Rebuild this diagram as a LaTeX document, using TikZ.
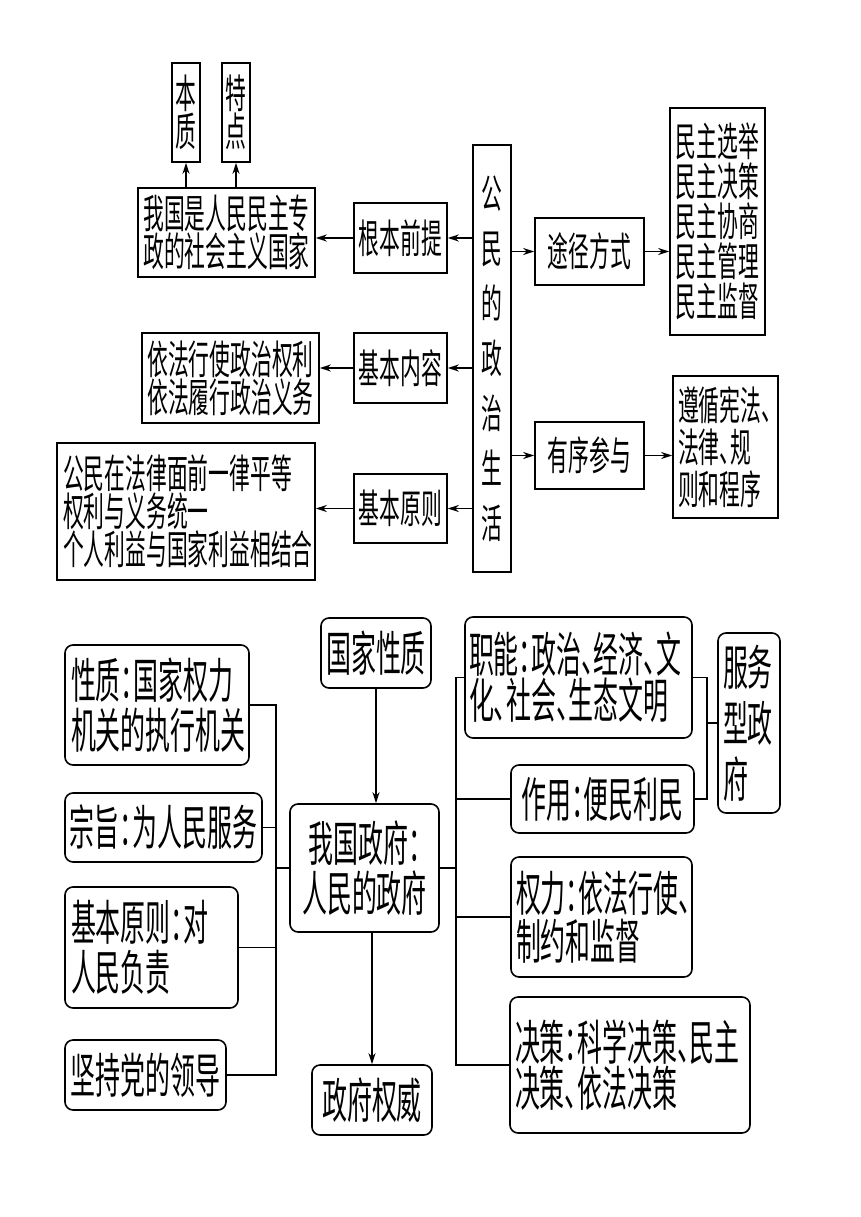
\documentclass[tikz,border=0pt]{standalone}
\usepackage{fontspec}
\setmainfont{Noto Sans CJK SC}[FakeStretch=0.52,RawFeature={+halt}]
\usetikzlibrary{arrows.meta}

\newcommand{\toptxt}{\fontsize{40}{35}\selectfont}
\newcommand{\bottxt}{\fontsize{48}{50}\selectfont}

\begin{document}
\begin{tikzpicture}[x=1pt,y=-1pt,
  box/.style={draw,line width=1.6pt,inner sep=0pt,align=center,font=\toptxt},
  rbox/.style={box,rounded corners=8pt,font=\bottxt},
  lefttxt/.style={align=left,inner xsep=6pt,text width=#1},
  link/.style={line width=1.8pt},
  >={Stealth[length=11pt,width=7pt]}]
\useasboundingbox (0,0) rectangle (860,1217);

% upper part
\node[box,minimum width=28,minimum height=99] (benzhi) at (186,112.5) {本\\质};
\node[box,minimum width=28,minimum height=99] (tedian) at (236,112.5) {特\\点};
\node[box,minimum width=177,minimum height=89,font={\fontsize{40}{36}\selectfont}] (guojia) at (226.5,232.5) {我国是人民民主专\\政的社会主义国家};
\node[box,minimum width=93,minimum height=70] (genben) at (400.5,238) {根本前提};
\node[box,minimum width=38,minimum height=427,font={\fontsize{40}{55}\selectfont}] (gongmin) at (492,358.5) {公\\民\\的\\政\\治\\生\\活};
\node[box,minimum width=109,minimum height=67] (tujing) at (589.5,251.5) {途径方式};
\node[box,minimum width=95,minimum height=227,font={\fontsize{40}{40}\selectfont}] (xuanju) at (717.5,221.5) {民主选举\\民主决策\\民主协商\\民主管理\\民主监督};
\node[box,minimum width=93,minimum height=70] (neirong) at (400.5,368) {基本内容};
\node[box,minimum width=177,minimum height=90,font={\fontsize{40}{35}\selectfont}] (yifa) at (230.5,378) {依法行使政治权利\\依法履行政治义务};
\node[box,minimum width=93,minimum height=69] (yuanze) at (400.5,508.5) {基本原则};
\node[box,lefttxt=246,minimum width=258,minimum height=137,font={\fontsize{40}{38}\selectfont}] (pingdeng) at (186,511.5) {公民在法律面前一律平等\\权利与义务统一\\个人利益与国家利益相结合};
\node[box,lefttxt=95,inner xsep=5pt,minimum width=105,minimum height=142,font={\fontsize{40}{42}\selectfont}] (zunxun) at (725.5,447) {遵循宪法、\\法律、规\\则和程序};

\node[box,minimum width=109,minimum height=67] (youxu) at (589.5,455.5) {有序参与};

\draw[->,link] (genben.east -| gongmin.west) -- (genben.east);
\draw[->,link] (genben.west) -- (genben.west -| guojia.east);
\draw[->,link] (benzhi.south |- guojia.north) -- (benzhi.south);
\draw[->,link] (tedian.south |- guojia.north) -- (tedian.south);
\draw[->,link] (neirong.east -| gongmin.west) -- (neirong.east);
\draw[->,link] (neirong.west) -- (neirong.west -| yifa.east);
\draw[->,link] (yuanze.east -| gongmin.west) -- (yuanze.east);
\draw[->,link] (yuanze.west) -- (yuanze.west -| pingdeng.east);
\draw[->,link] (gongmin.east |- tujing.west) -- (tujing.west);
\draw[->,link] (tujing.east) -- (tujing.east -| xuanju.west);
\draw[->,link] (gongmin.east |- youxu.west) -- (youxu.west);
\draw[->,link] (youxu.east) -- (youxu.east -| zunxun.west);

% lower part
\node[rbox,lefttxt=172,minimum width=184,minimum height=120] (xingzhi) at (157,705) {性质：国家权力\\机关的执行机关};
\node[rbox,minimum width=197,minimum height=69] (zongzhi) at (163.5,827.5) {宗旨：为人民服务};
\node[rbox,lefttxt=161,minimum width=173,minimum height=121] (jbyz) at (151.5,947.5) {基本原则：对\\人民负责};
\node[rbox,minimum width=161,minimum height=70] (jianchi) at (145.5,1075) {坚持党的领导};
\node[rbox,minimum width=110,minimum height=70] (gjxz) at (376,653) {国家性质};
\node[rbox,minimum width=149,minimum height=128] (zhengfu) at (364.5,868) {我国政府：\\人民的政府};
\node[rbox,minimum width=120,minimum height=70] (quanwei) at (372,1100) {政府权威};
\node[rbox,lefttxt=219,inner xsep=4pt,minimum width=227,minimum height=121,font={\fontsize{48}{43}\selectfont}] (zhineng) at (578.5,677.5) {职能：政治、经济、文\\化、社会、生态文明};
\node[rbox,minimum width=183,minimum height=68] (zuoyong) at (602.5,799) {作用：便民利民};
\node[rbox,lefttxt=171,inner xsep=5pt,minimum width=181,minimum height=120,font={\fontsize{48}{48}\selectfont}] (quanli) at (601.5,917) {权力：依法行使、\\制约和监督};
\node[rbox,lefttxt=230,inner xsep=5pt,minimum width=240,minimum height=136,font={\fontsize{48}{46}\selectfont}] (juece) at (630,1065) {决策：科学决策、民主\\决策、依法决策};
\node[rbox,lefttxt=52,inner xsep=5pt,minimum width=62,minimum height=180,font={\fontsize{48}{56}\selectfont}] (fuwu) at (749,723) {服务\\型政\\府};

\coordinate (lb) at (276,0);
\coordinate (rb) at (456,0);
\coordinate (sb) at (707,0);

\draw[link] (xingzhi.east) -- (xingzhi.east -| lb) -- (jianchi.east -| lb) -- (jianchi.east);
\draw[link] (zongzhi.east) -- (zongzhi.east -| lb);
\draw[link] (jbyz.east) -- (jbyz.east -| lb);
\draw[link] (zhengfu.west) -- (zhengfu.west -| lb);

\draw[link] (zhineng.west) -- (zhineng.west -| rb) -- (juece.west -| rb) -- (juece.west);
\draw[link] (zuoyong.west) -- (zuoyong.west -| rb);
\draw[link] (quanli.west) -- (quanli.west -| rb);
\draw[link] (zhengfu.east) -- (zhengfu.east -| rb);

\draw[link] (zhineng.east) -- (zhineng.east -| sb) -- (zuoyong.east -| sb) -- (zuoyong.east);
\draw[link] (fuwu.west) -- (fuwu.west -| sb);

\draw[->,line width=1.2pt] (gjxz.south) -- (gjxz.south |- zhengfu.north);
\draw[->,line width=1.2pt] (quanwei.north |- zhengfu.south) -- (quanwei.north);
\end{tikzpicture}
\end{document}
